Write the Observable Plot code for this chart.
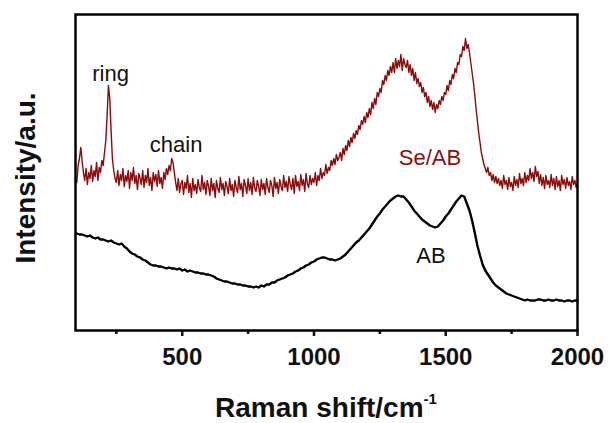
<!DOCTYPE html>
<html>
<head>
<meta charset="utf-8">
<script src="https://cdn.jsdelivr.net/npm/d3@7"></script>
<script src="https://cdn.jsdelivr.net/npm/@observablehq/plot@0.6"></script>
<style>
  html, body { margin: 0; padding: 0; background: #fff; }
  #chart { width: 611px; height: 423px; }
</style>
</head>
<body>
<div id="chart"></div>
<script>
// Raman shift (cm^-1) sampling for the Se/AB spectrum
const seabShift = d3.range(100, 2001, 5);
// Se/AB intensity (a.u.)
const seabIntensity = [
  148,165,172,183,170,158,150,162,146,158,152,165,149,160,154,168,150,163,158,170,
  165,178,190,215,245,232,200,172,160,152,148,160,145,156,150,162,144,155,149,160,
  142,158,150,163,147,155,141,157,152,146,160,143,155,148,162,145,153,140,158,149,
  156,144,160,147,153,142,158,151,162,156,165,160,172,168,158,148,140,152,138,147,
  150,136,148,142,155,138,147,133,152,140,146,137,151,143,139,155,141,148,136,150,
  144,135,152,140,147,133,150,142,138,153,141,147,135,149,144,137,152,140,146,134,
  150,143,138,154,141,147,134,151,145,137,152,140,148,136,153,142,139,150,144,135,
  151,141,147,136,152,143,138,150,145,134,153,142,148,137,151,144,140,155,143,149,
  139,154,146,141,152,137,155,144,149,140,156,145,151,139,157,147,143,155,146,152,
  148,158,145,155,150,162,152,158,155,166,157,163,160,170,165,172,166,176,170,173,
  178,170,182,176,185,180,190,184,193,188,197,192,200,196,205,201,210,206,214,208,
  218,213,222,216,228,222,232,226,238,234,242,238,250,246,255,250,260,255,264,258,
  268,258,272,262,270,264,276,260,272,266,263,270,258,266,255,262,250,258,247,252,
  244,248,238,243,234,238,228,234,224,230,221,228,218,226,222,230,226,234,230,238,
  236,245,240,250,246,256,252,262,258,268,266,276,274,284,280,292,282,286,278,268,
  258,248,236,222,210,198,188,178,172,166,162,158,163,155,158,150,156,148,154,147,
  152,145,150,142,155,146,150,141,153,144,148,140,154,145,151,143,157,147,152,145,
  158,148,155,150,162,152,158,149,164,154,159,147,156,145,153,142,155,146,150,143,
  156,145,152,141,154,144,150,140,155,146,151,142,153,145,149,141,154,146,150,143,
  148
];
// Raman shift sampling for the AB spectrum
const abShift = d3.range(100, 2001, 10);
// AB intensity (a.u.)
const abIntensity = [
  97,96,96,95,94,95,93,92,93,91,
  91,90,89,90,88,87,86,87,84,82,
  79,77,76,74,73,71,70,68,66,65,
  65,64,64,63,62,63,62,62,61,62,
  60,61,59,60,59,58,58,57,57,56,
  56,55,54,52,51,50,49,49,48,47,
  47,46,46,45,45,44,44,43,44,43,
  45,44,46,46,48,48,50,51,52,53,
  55,56,57,59,60,62,63,65,66,68,
  69,71,72,73,73,72,71,71,70,71,
  72,74,76,79,82,85,88,90,93,96,
  99,102,106,110,114,117,121,124,127,130,
  132,134,135,134,134,131,128,124,120,117,
  114,111,109,107,105,104,103,104,107,110,
  114,117,121,125,129,132,135,134,127,120,
  110,98,85,75,66,60,56,52,48,45,
  43,41,39,37,36,35,34,33,32,31,
  30,31,30,30,30,31,31,30,30,31,
  30,30,31,30,30,29,30,30,29,30,
  30
];
// Annotation labels
const labelText = ["ring", "chain", "Se/AB", "AB"];
const labelShift = [228, 477, 1440, 1444];
const labelIntensity = [250, 179, 166, 68];
const labelColor = ["#111", "#111", "#8b0f0f", "#111"];
// Axis ticks
const majorTicks = [500, 1000, 1500, 2000];
const minorTicks = [250, 750, 1250, 1750];

const seab = seabShift.map((x, i) => ({x, y: seabIntensity[i]}));
const ab = abShift.map((x, i) => ({x, y: abIntensity[i]}));
const labels = labelText.map((t, i) => ({t, x: labelShift[i], y: labelIntensity[i], c: labelColor[i]}));

const font = "'Liberation Sans', Arial, Helvetica, sans-serif";
const plot = Plot.plot({
  width: 611,
  height: 423,
  marginLeft: 75,
  marginRight: 34,
  marginTop: 14,
  marginBottom: 93,
  style: {fontFamily: font, background: "white", color: "#111"},
  x: {domain: [95, 2000]},
  y: {domain: [0, 316]},
  marks: [
    Plot.line(ab, {x: "x", y: "y", stroke: "#000", strokeWidth: 2.4, strokeLinejoin: "round"}),
    Plot.line(seab, {x: "x", y: "y", stroke: "#8b0a0a", strokeWidth: 1.4, strokeLinejoin: "round"}),
    Plot.text(labels, {x: "x", y: "y", text: "t", fill: "c", fontSize: 22, textAnchor: "middle", lineAnchor: "bottom"}),
    Plot.axisX({ticks: majorTicks, tickSize: 6, tickPadding: 11, strokeWidth: 2.5, fontSize: 24, fontWeight: "bold", label: null, tickFormat: d => String(d)}),
    Plot.axisX({ticks: minorTicks, tickSize: 4, strokeWidth: 2.5, text: null, label: null}),
    Plot.axisY({ticks: [], label: null}),
    Plot.frame({stroke: "#000", strokeWidth: 2.5})
  ]
});
document.getElementById("chart").appendChild(plot);

// axis titles
const svg = d3.select(plot);
const xs = plot.scale("x");
const ys = plot.scale("y");
const cx = (xs.range[0] + xs.range[1]) / 2;
const cy = (ys.range[0] + ys.range[1]) / 2 + 6;
const xt = svg.append("text")
  .attr("x", cx).attr("y", 417)
  .attr("text-anchor", "middle")
  .attr("font-family", font).attr("font-size", 28).attr("font-weight", "bold").attr("fill", "#111");
xt.append("tspan").text("Raman shift/cm");
xt.append("tspan").attr("font-size", 15).attr("dy", -13).text("-1");
svg.append("text")
  .attr("transform", `translate(35,${cy}) rotate(-90)`)
  .attr("text-anchor", "middle")
  .attr("font-family", font).attr("font-size", 28).attr("font-weight", "bold").attr("fill", "#111")
  .text("Intensity/a.u.");
</script>
</body>
</html>
